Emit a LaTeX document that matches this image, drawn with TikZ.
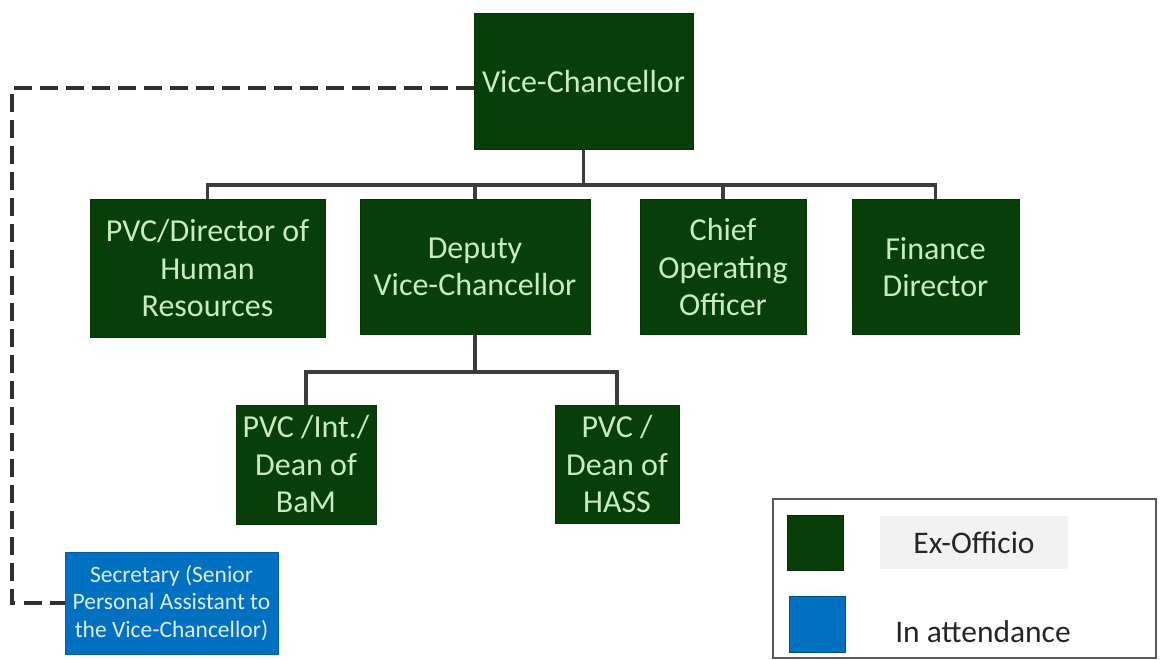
\documentclass[tikz,border=0pt]{standalone}
\usepackage{fontspec}
\setmainfont{Carlito}
\definecolor{dkgreen}{RGB}{8,62,8}
\definecolor{ltgreen}{RGB}{200,236,190}
\definecolor{secblue}{RGB}{0,112,192}
\definecolor{ltblue}{RGB}{222,236,248}
\definecolor{conncol}{RGB}{60,60,60}
\begin{document}
\begin{tikzpicture}[x=1pt,y=-1pt,
  box/.style={fill=dkgreen, draw=dkgreen!85!black, line width=1pt, text=ltgreen, align=center, inner sep=0pt,
    font=\fontsize{32}{37.5}\selectfont},
  secbox/.style={fill=secblue, draw=secblue!85!black, line width=1pt, text=ltblue, align=center, inner sep=0pt,
    font=\fontsize{23.5}{27.5}\selectfont},
  conn/.style={draw=conncol, line width=3.2pt},
  dashconn/.style={draw=conncol!80!black, line width=3.2pt, dash pattern=on 18pt off 8pt},
  legtext/.style={font=\fontsize{31.5}{34}\selectfont, text=black!85, inner sep=0pt}]
\useasboundingbox (0,0) rectangle (1161,660);
\fill[white] (0,0) rectangle (1161,660);

% nodes
\node[box, minimum width=219pt, minimum height=136pt] (vc) at (583.5,82) {Vice-Chancellor};
\node[box, minimum width=235pt, minimum height=137pt] (hr) at (207.5,268.5) {PVC/Director of\\Human\\Resources};
\node[box, minimum width=230pt, minimum height=134pt] (dvc) at (475,267) {Deputy\\Vice-Chancellor};
\node[box, minimum width=166pt, minimum height=134pt] (coo) at (723,267) {Chief\\Operating\\Officer};
\node[box, minimum width=167pt, minimum height=134pt] (fin) at (935.5,267) {Finance\\Director};
\node[box, minimum width=140pt, minimum height=119pt] (bam) at (306,464.5) {PVC /Int./\\Dean of\\BaM};
\node[box, minimum width=124pt, minimum height=118pt] (hass) at (617,464) {PVC /\\Dean of\\HASS};
\node[secbox, minimum width=213pt, minimum height=102pt] (sec) at (171.5,603) {Secretary (Senior\\Personal Assistant to\\the Vice-Chancellor)};

% connectors
\coordinate (bus) at (0,185);
\coordinate (bus2) at (0,372);
\coordinate (dl) at (12,88);
\draw[conn] (vc.south) -- (vc.south |- bus);
\draw[conn] (hr.north) -- (hr.north |- bus) -- (fin.north |- bus) -- (fin.north);
\draw[conn] (dvc.north) -- (dvc.north |- bus);
\draw[conn] (coo.north) -- (coo.north |- bus);
\draw[conn] (dvc.south) -- (dvc.south |- bus2);
\draw[conn] (bam.north) -- (bam.north |- bus2) -- (hass.north |- bus2) -- (hass.north);
\draw[dashconn] (vc.west |- dl) -- (dl) |- (sec.west);

% legend
\node[draw=black!65, line width=2pt, fill=white, minimum width=383pt, minimum height=159pt, inner sep=0pt] (leg) at (964.5,578.5) {};
\node[fill=dkgreen, draw=dkgreen!70!black, minimum width=56pt, minimum height=55pt, inner sep=0pt] (lg) at (815,542.5) {};
\node[fill=secblue, draw=secblue!70!black, minimum width=56pt, minimum height=56pt, inner sep=0pt] (lb) at (817,624) {};
\node[fill=black!5, minimum width=188pt, minimum height=53pt, inner sep=0pt] (exbg) at (974,542) {};
\node[legtext] (ex) at (974,543) {Ex-Officio};
\node[legtext] (ia) at (983,632) {In attendance};
\end{tikzpicture}
\end{document}
